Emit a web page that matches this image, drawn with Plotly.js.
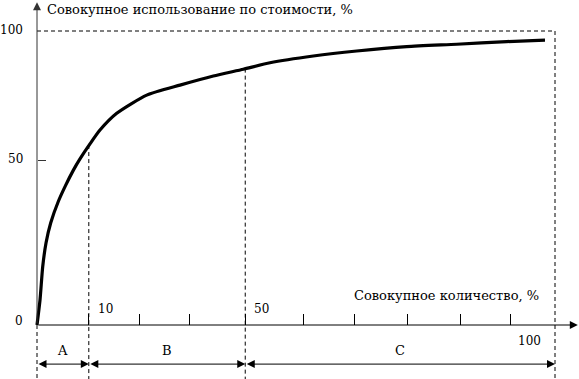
<!DOCTYPE html>
<html>
<head>
<meta charset="utf-8">
<script src="https://cdn.plot.ly/plotly-3.0.1.min.js"></script>
<style>html,body{margin:0;padding:0;background:#fff;}#chart{width:579px;height:379px;}</style>
</head>
<body>
<div id="chart"></div>
<script>
// Schematic ABC curve, values in the picture's own (schematic) scale, 0..100 on both axes
const cumQty = [0, 0.58, 1.10, 1.74, 2.64, 4.11, 5.5, 7.0, 8.30, 10.23, 12.16, 15.39, 21.18, 27.61, 34.04, 39.83, 44.98, 53.34, 61.72, 71.37, 81.02, 90.68, 98.07];
const cumValue = [0, 8.5, 19.8, 27.9, 34.7, 42.0, 47.4, 52.6, 56.5, 61.6, 66.3, 72.0, 78.2, 81.6, 84.7, 87.0, 89.2, 91.5, 93.2, 94.7, 95.5, 96.4, 96.9];

// group boundaries on the x axis and the curve height where each boundary line starts
const groupBounds = [0, 10, 40.2, 100];
const boundTops = [0, 61.2, 87.2, 100];
const groupNames = ['A', 'B', 'C'];

// x axis tick marks (schematic positions) and the labelled ones
const xTickVals = [10, 19.7, 29.5, 40.2, 51.5, 61.2, 71.6, 81.7, 91.5];
const xLabelVals = [10, 40.2];
const xLabelText = ['10', '50'];
const xEndVal = 100;
const xEndText = '100';

// y axis labels
const yTickVals = [0, 56.1, 100];
const yTickText = ['0', '50', '100'];

const xTitle = 'Совокупное количество, %';
const yTitle = 'Совокупное использование по стоимости, %';

const font = {family: '"DejaVu Serif"', size: 13, color: '#000'};
const tickFont = {family: '"DejaVu Serif"', size: 12, color: '#000'};
const dash = {color: '#000', width: 1, dash: '4px,3px'};
const yBottom = -18.4;
const arrowY = -13.3;

const shapes = [];
// horizontal dashed line at 100
shapes.push({type: 'line', xref: 'x', yref: 'y', x0: 0, x1: xEndVal, y0: 100, y1: 100, line: dash});
// vertical dashed boundary lines
groupBounds.forEach((b, i) => {
  shapes.push({type: 'line', xref: 'x', yref: 'y', x0: b, x1: b, y0: boundTops[i], y1: yBottom, line: dash});
});

const annotations = [];
// axis arrows
annotations.push({x: 104.4, y: 0, ax: 0, ay: 0, xref: 'x', yref: 'y', axref: 'x', ayref: 'y', text: '', showarrow: true, arrowhead: 2, arrowsize: 1.6, arrowwidth: 1, arrowcolor: '#000', standoff: 0});
annotations.push({x: 0, y: 109.8, ax: 0, ay: 0, xref: 'x', yref: 'y', axref: 'x', ayref: 'y', text: '', showarrow: true, arrowhead: 2, arrowsize: 1.6, arrowwidth: 1, arrowcolor: '#333', standoff: 0});
// group double arrows + names
for (let i = 0; i < groupNames.length; i++) {
  const a = groupBounds[i], b = groupBounds[i + 1];
  annotations.push({x: b, y: arrowY, ax: a, ay: arrowY, xref: 'x', yref: 'y', axref: 'x', ayref: 'y', text: '', showarrow: true, arrowhead: 2, arrowside: 'end+start', arrowsize: 1.6, arrowwidth: 1, arrowcolor: '#000', standoff: 0, startstandoff: 0});
  annotations.push({x: (a + b) / 2, y: arrowY, yshift: 14, xref: 'x', yref: 'y', text: groupNames[i], showarrow: false, font: font});
}
// x tick labels (above the axis)
xLabelVals.forEach((v, i) => {
  annotations.push({x: v, y: 0, xref: 'x', yref: 'y', text: xLabelText[i], showarrow: false, xanchor: 'left', yanchor: 'middle', xshift: 7, yshift: 16, font: tickFont});
});
annotations.push({x: xEndVal, y: 0, xref: 'x', yref: 'y', text: xEndText, showarrow: false, xanchor: 'right', yanchor: 'middle', xshift: -12, yshift: -16, font: tickFont});
// y tick labels
yTickVals.forEach((v, i) => {
  annotations.push({x: 0, y: v, xref: 'x', yref: 'y', text: yTickText[i], showarrow: false, xanchor: 'right', yanchor: 'middle', xshift: -12, yshift: (i === 0 ? 4 : 1), font: tickFont});
});
// axis titles
annotations.push({x: 0, y: 110.5, xref: 'x', yref: 'y', text: yTitle, showarrow: false, xanchor: 'left', yanchor: 'top', xshift: 8, yshift: 0, font: font});
annotations.push({x: xEndVal, y: 0, xref: 'x', yref: 'y', text: xTitle, showarrow: false, xanchor: 'right', yanchor: 'middle', xshift: -14, yshift: 30, font: font});

const trace = {
  x: cumQty, y: cumValue, type: 'scatter', mode: 'lines',
  line: {color: '#000', width: 3.2, shape: 'spline', smoothing: 0.6},
  hoverinfo: 'skip'
};

const layout = {
  width: 579, height: 379,
  margin: {l: 0, r: 0, t: 0, b: 0},
  paper_bgcolor: '#fff', plot_bgcolor: '#fff',
  showlegend: false,
  font: font,
  xaxis: {
    range: [-7.143, 104.633], showgrid: false, zeroline: false, showline: false,
    showticklabels: false, ticks: 'inside', ticklen: 11, tickwidth: 1, tickcolor: '#000',
    tickmode: 'array', tickvals: xTickVals, anchor: 'free', position: 0.14248
  },
  yaxis: {
    range: [-18.367, 110.544], showgrid: false, zeroline: false, showline: false,
    showticklabels: false, ticks: 'inside', ticklen: 8, tickwidth: 1, tickcolor: '#333',
    tickmode: 'array', tickvals: [yTickVals[1]], anchor: 'free', position: 0.06390
  },
  shapes: shapes,
  annotations: annotations
};

Plotly.newPlot('chart', [trace], layout, {displayModeBar: false, staticPlot: true});
</script>
</body>
</html>
